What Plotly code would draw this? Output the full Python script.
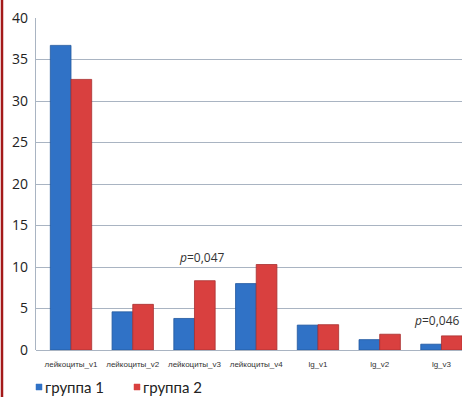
import plotly.graph_objects as go

categories = ["лейкоциты_v1", "лейкоциты_v2", "лейкоциты_v3", "лейкоциты_v4",
              "lg_v1", "lg_v2", "lg_v3"]
group1 = [36.7, 4.6, 3.8, 8.0, 3.0, 1.25, 0.7]
group2 = [32.6, 5.5, 8.35, 10.3, 3.05, 1.9, 1.7]
series_names = ["группа 1", "группа 2"]
series_colors = ["#3072c6", "#d9403f"]
y_ticks = [0, 5, 10, 15, 20, 25, 30, 35, 40]

W, H = 462, 397
L, R, T, B = 36, 0, 18, 47
plot_w = W - L - R
plot_h = H - T - B


def px_x(px):
    return (px - L) / plot_w


def px_y(py):
    return (H - B - py) / plot_h


fig = go.Figure()
fig.add_bar(x=categories, y=group1, name=series_names[0], showlegend=False,
            marker=dict(color=series_colors[0], line=dict(color="#22589e", width=0.8)))
fig.add_bar(x=categories, y=group2, name=series_names[1], showlegend=False,
            marker=dict(color=series_colors[1], line=dict(color="#a83030", width=0.8)))

# significance labels
fig.add_annotation(x="лейкоциты_v3", y=10, text="<i>p</i>=0,047", showarrow=False,
                   xshift=7, yanchor="bottom", yshift=-1,
                   font=dict(size=12, color="#333333"))
fig.add_annotation(xref="paper", x=px_x(461), y=2.25, text="<i>p</i>=0,046",
                   showarrow=False, xanchor="right", yanchor="bottom",
                   font=dict(size=12, color="#333333"))

# legend keys below the axis
legend_x = [36, 134]
for name, color, lx in zip(series_names, series_colors, legend_x):
    fig.add_shape(type="rect", xref="paper", yref="paper",
                  x0=px_x(lx), x1=px_x(lx + 6), y0=px_y(390), y1=px_y(384),
                  fillcolor=color, line=dict(color=color, width=0.5))
    fig.add_annotation(xref="paper", yref="paper", x=px_x(lx + 7), y=px_y(387),
                       text=name, showarrow=False, xanchor="left", yanchor="middle",
                       font=dict(size=15, family="Lato, Open Sans, sans-serif",
                                 color="#222222"))

# dark red frame line on the left edge of the page
fig.add_shape(type="line", xref="paper", yref="paper",
              x0=px_x(2), x1=px_x(2), y0=px_y(H), y1=px_y(0),
              line=dict(color="#a31919", width=2.5))

fig.update_layout(
    width=W, height=H,
    margin=dict(l=L, r=R, t=T, b=B),
    plot_bgcolor="white", paper_bgcolor="white",
    barmode="group", bargap=0.33, bargroupgap=0,
    font=dict(family="Open Sans, Arial, sans-serif", color="#222222"),
    showlegend=False,
)
fig.update_xaxes(range=[-0.567, 6.333], showgrid=False, showline=False,
                 tickfont=dict(size=8, family="Liberation Sans, Arial, sans-serif",
                               color="#333333"),
                 ticks="", ticklabelstandoff=8)
fig.update_yaxes(range=[0, 40], tickvals=y_ticks, showgrid=True,
                 gridcolor="#a9b4c2", gridwidth=1.2,
                 showline=True, linecolor="#a9b4c2", linewidth=1.2,
                 zeroline=True, zerolinecolor="#a9b4c2", zerolinewidth=1.2,
                 tickfont=dict(size=14, color="#222222"), ticks="",
                 ticklabelstandoff=4)

fig.write_html("out.html")
